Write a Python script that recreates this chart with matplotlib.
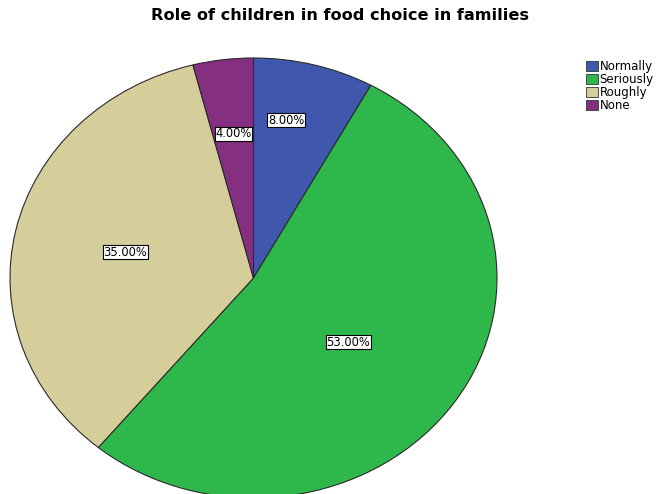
import numpy as np
import matplotlib.pyplot as plt
from matplotlib.patches import Patch

plt.rcParams['font.family'] = ['DejaVu Sans']

# share of families by how seriously children's choices are taken
categories = ['Normally', 'Seriously', 'Roughly', 'None']
shares = [8.0, 53.0, 35.0, 4.0]
colors = ['#3f58ad', '#2eb84c', '#d5cd9a', '#852f80']
label_r = [0.74, 0.52, 0.54, 0.66]
label_dx = [-0.05, -0.04, 0.0, 0.0]

fig = plt.figure(figsize=(6.57, 4.94), dpi=100)
# stretched axes so the pie comes out as a wide ellipse
ax = fig.add_axes([10 / 657, -4 / 494, 487 / 657, 440 / 494])

wedges, _ = ax.pie(shares, colors=colors, startangle=90, counterclock=False,
                   wedgeprops=dict(edgecolor='#2a2a2a', linewidth=0.8))
ax.set_aspect('auto')
ax.set_xlim(-1, 1)
ax.set_ylim(-1, 1)
ax.axis('off')

# percentage labels near each wedge's middle angle
for w, v, r, dx in zip(wedges, shares, label_r, label_dx):
    ang = np.deg2rad((w.theta1 + w.theta2) / 2)
    ax.text(r * np.cos(ang) + dx, r * np.sin(ang), f'{v:.2f}%',
            ha='center', va='center', fontsize=8.3,
            bbox=dict(facecolor='white', edgecolor='black', linewidth=0.8, pad=0.4))

fig.text(0.517, 0.968, 'Role of children in food choice in families',
         ha='center', va='center', fontsize=11.6, fontweight='bold')

handles = [Patch(facecolor=c, edgecolor='#333333', linewidth=0.6) for c in colors]
fig.legend(handles, categories, loc='upper left', bbox_to_anchor=(0.892, 0.878),
           frameon=False, fontsize=8.5, handlelength=1.0, handleheight=0.9,
           handletextpad=0.15, labelspacing=0.0, borderpad=0, borderaxespad=0)

fig.savefig('out.png', dpi=100)
